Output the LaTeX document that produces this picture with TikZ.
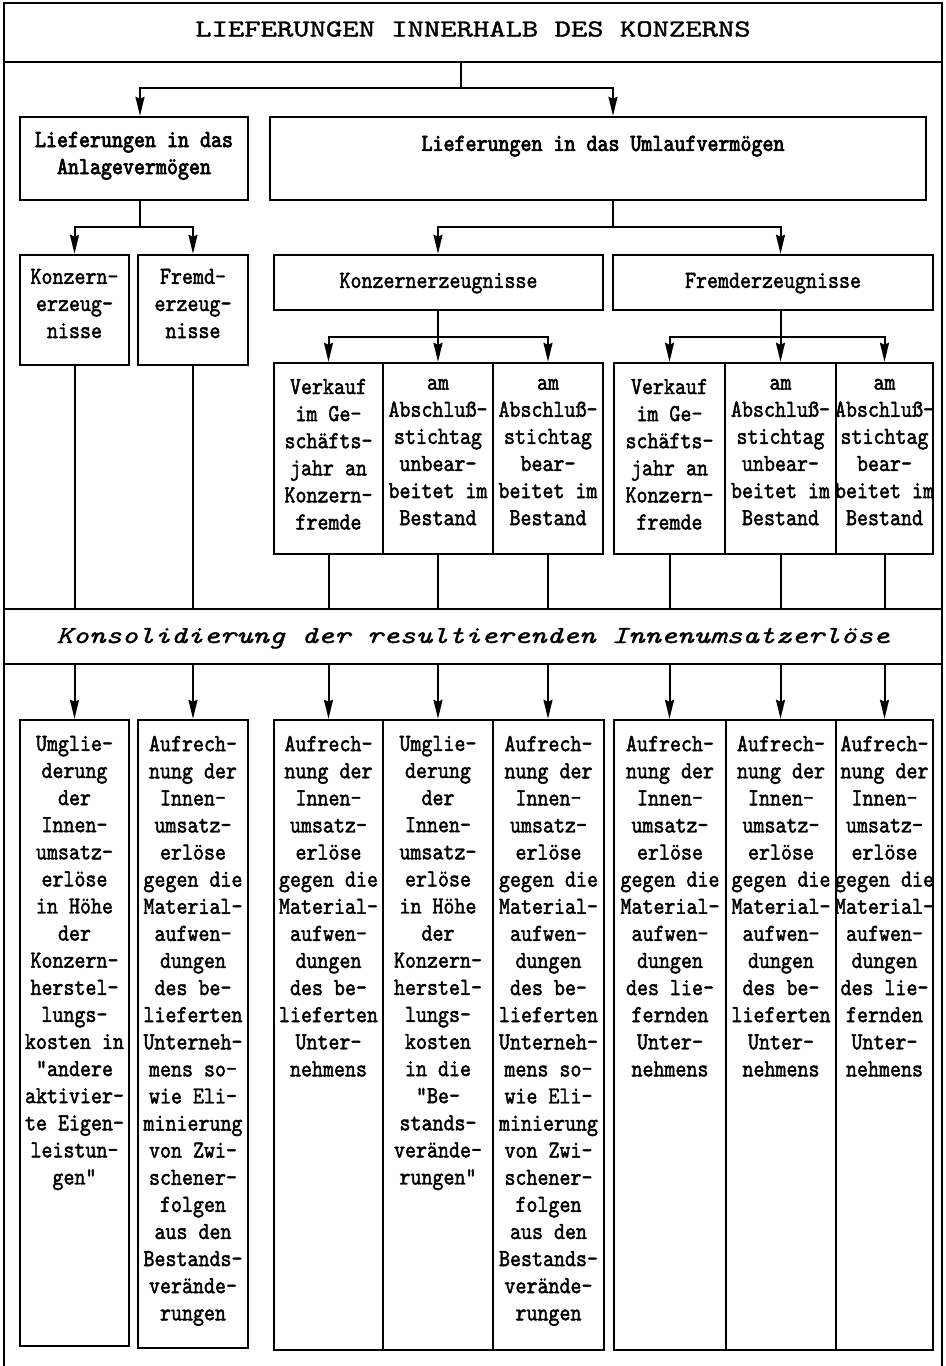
\documentclass[tikz,border=0pt]{standalone}
\usepackage{fontspec}
\usetikzlibrary{arrows.meta,fit}
% typewriter faces: a narrow one for the boxes, a wide one for title and band
\newfontfamily\bodyfont{lmmono10-regular.otf}[FakeStretch=0.855,FakeBold=1.8]
\newfontfamily\headfont{lmmono10-regular.otf}[FakeStretch=0.855,FakeBold=3]
\newfontfamily\widefont{lmmono10-regular.otf}[FakeStretch=1.27,FakeBold=1.4,ItalicFont=lmmono10-italic.otf]

\newcommand\AufBeliefert{Aufrech-\\nung der\\Innen-\\umsatz-\\erlöse\\gegen die\\Material-\\aufwen-\\dungen\\des be-\\lieferten\\Unter-\\nehmens}
\newcommand\AufLiefernd{Aufrech-\\nung der\\Innen-\\umsatz-\\erlöse\\gegen die\\Material-\\aufwen-\\dungen\\des lie-\\fernden\\Unter-\\nehmens}
\newcommand\AufBestand{Aufrech-\\nung der\\Innen-\\umsatz-\\erlöse\\gegen die\\Material-\\aufwen-\\dungen\\des be-\\lieferten\\Unterneh-\\mens so-\\wie Eli-\\minierung\\von Zwi-\\schener-\\folgen\\aus den\\Bestands-\\verände-\\rungen}
\newcommand\VerkaufTxt{Verkauf\\im Ge-\\schäfts-\\jahr an\\Konzern-\\fremde}
\newcommand\UnbearbTxt{am\\Abschluß-\\stichtag\\unbear-\\beitet im\\Bestand}
\newcommand\BearbTxt{am\\Abschluß-\\stichtag\\bear-\\beitet im\\Bestand}

\tikzset{
  frame/.style={draw, line width=1.3pt, inner sep=0pt},
  box/.style={draw, line width=1.2pt, inner sep=0pt},
  conn/.style={line width=1pt},
  arr/.style={conn, -{Stealth[length=9.5pt,width=4.5pt,inset=1pt]}},
  txt/.style={anchor=north, inner sep=0pt, align=center,
    font=\bodyfont\fontsize{12.25pt}{13.55pt}\selectfont,
    execute at begin node=\strut},
  head/.style={txt, font=\headfont\fontsize{12.25pt}{13.55pt}\selectfont},
  wide/.style={anchor=base, inner sep=0pt,
    font=\widefont\fontsize{12.25pt}{13.55pt}\selectfont},
}

\begin{document}
\begin{tikzpicture}[x=0.5pt,y=-0.5pt]
\useasboundingbox (0,0) rectangle (946,1366);

% outer frame (open at the foot), title strip and consolidation band
\draw[line width=1.3pt] (4,1366) -- (4,3) -- (942,3) -- (942,1366);
\node[frame, fit={(4,3) (942,62)}] (title) {};
\node[wide] (titletxt) at (473,36.5) {LIEFERUNGEN INNERHALB DES KONZERNS};
\node[frame, fit={(4,609) (942,664)}] (band) {};
\node[wide] (bandtxt) at (473,643) {\itshape Konsolidierung der resultierenden Innenumsatzerlöse};

% first level
\node[box, fit={(20,117) (248,200)}] (A) {};
\node[head] (Atxt) at (134,131.5) {Lieferungen in das\\Anlagevermögen};
\node[box, fit={(270,117) (926,200)}] (U) {};
\node[head] (Utxt) at (603,131.5) {Lieferungen in das Umlaufvermögen};

% second level
\node[box, fit={(20,255) (129,365)}] (KA) {};
\node[txt] (KAtxt) at (KA.north |- 0,268.5) {Konzern-\\erzeug-\\nisse};
\node[box, fit={(138,255) (248,365)}] (FA) {};
\node[txt] (FAtxt) at (FA.north |- 0,268.5) {Fremd-\\erzeug-\\nisse};
\node[box, fit={(274,255) (603,310)}] (KE) {};
\node[txt] (KEtxt) at (KE.north |- 0,268.5) {Konzernerzeugnisse};
\node[box, fit={(613,255) (933,310)}] (FE) {};
\node[txt] (FEtxt) at (FE.north |- 0,268.5) {Fremderzeugnisse};

% third level cells
\node[box, fit={(274,363) (383,554)}] (K1) {};
\node[box, fit={(383,363) (493,554)}] (K2) {};
\node[box, fit={(493,363) (603,554)}] (K3) {};
\node[box, fit={(614,363) (725,554)}] (F1) {};
\node[box, fit={(725,363) (836,554)}] (F2) {};
\node[box, fit={(836,363) (933,554)}] (F3) {};
\node[txt] (K1txt) at (K1.north |- 0,378.5) {\VerkaufTxt};
\node[txt] (K2txt) at (K2.north |- 0,378.5) {\UnbearbTxt};
\node[txt] (K3txt) at (K3.north |- 0,378.5) {\BearbTxt};
\node[txt] (F1txt) at (F1.north |- 0,378.5) {\VerkaufTxt};
\node[txt] (F2txt) at (F2.north |- 0,378.5) {\UnbearbTxt};
\node[txt] (F3txt) at (F3.north |- 0,378.5) {\BearbTxt};

% consolidation boxes
\node[box, fit={(20,720) (129,1346)}] (B1) {};
\node[box, fit={(138,720) (248,1348)}] (B2) {};
\node[box, fit={(274,720) (383,1350)}] (C1) {};
\node[box, fit={(383,720) (493,1350)}] (C2) {};
\node[box, fit={(493,720) (604,1350)}] (C3) {};
\node[box, fit={(614,720) (726,1350)}] (D1) {};
\node[box, fit={(726,720) (836,1350)}] (D2) {};
\node[box, fit={(836,720) (933,1350)}] (D3) {};
\node[txt] (B1txt) at (B1.north |- 0,735.5) {Umglie-\\derung\\der\\Innen-\\umsatz-\\erlöse\\in Höhe\\der\\Konzern-\\herstel-\\lungs-\\kosten in\\"andere\\aktivier-\\te Eigen-\\leistun-\\gen"};
\node[txt] (B2txt) at (B2.north |- 0,735.5) {\AufBestand};
\node[txt] (C1txt) at (C1.north |- 0,735.5) {\AufBeliefert};
\node[txt] (C2txt) at (C2.north |- 0,735.5) {Umglie-\\derung\\der\\Innen-\\umsatz-\\erlöse\\in Höhe\\der\\Konzern-\\herstel-\\lungs-\\kosten\\in die\\"Be-\\stands-\\verände-\\rungen"};
\node[txt] (C3txt) at (C3.north |- 0,735.5) {\AufBestand};
\node[txt] (D1txt) at (D1.north |- 0,735.5) {\AufLiefernd};
\node[txt] (D2txt) at (D2.north |- 0,735.5) {\AufBeliefert};
\node[txt] (D3txt) at (D3.north |- 0,735.5) {\AufLiefernd};

% junctions of the branching connectors
\coordinate (tj) at (461,88);
\coordinate (aj) at (140,227);
\coordinate (uj) at (613,227);
\coordinate (kj) at (438,337);
\coordinate (fj) at (780.5,337);

\draw[conn] (title.south -| tj) -- (tj);
\draw[arr] (tj) -| (aj |- A.north);
\draw[arr] (tj) -| (uj |- U.north);

\draw[conn] (aj |- A.south) -- (aj);
\draw[arr] (aj) -| (KA.north);
\draw[arr] (aj) -| (FA.north);

\draw[conn] (uj |- U.south) -- (uj);
\draw[arr] (uj) -| (K2.north |- KE.north);
\draw[arr] (uj) -| (F2.north |- FE.north);

\draw[conn] (K2.north |- KE.south) -- (kj);
\draw[arr] (kj) -| (K1.north);
\draw[arr] (kj) -- (K2.north);
\draw[arr] (kj) -| (K3.north);

\draw[conn] (F2.north |- FE.south) -- (fj);
\draw[arr] (fj) -| (F1.north);
\draw[arr] (fj) -- (F2.north);
\draw[arr] (fj) -| (F3.north);

% lines into the band and arrows out of it
\foreach \n/\m in {KA/B1, FA/B2, K1/C1, K2/C2, K3/C3, F1/D1, F2/D2, F3/D3} {
  \draw[conn] (\n.south) -- (\n.south |- band.north);
  \draw[arr] (band.south -| \n.south) -- (\n.south |- \m.north);
}
\end{tikzpicture}
\end{document}
